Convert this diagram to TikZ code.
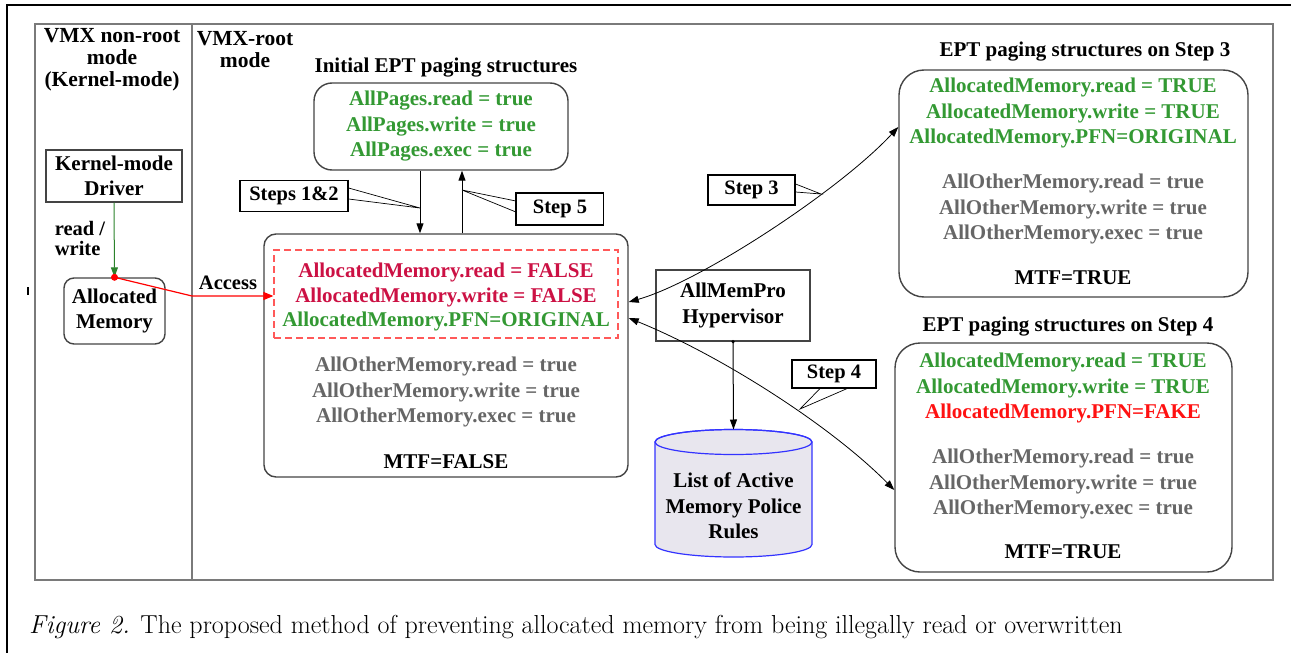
\documentclass[tikz,border=0pt]{standalone}
\usepackage{fontspec}
\newfontfamily\diagfont{Liberation Serif}
\usetikzlibrary{arrows.meta,calc}

\definecolor{okgreen}{HTML}{339933}
\definecolor{badred}{HTML}{CC1144}
\definecolor{fakered}{HTML}{FF1111}
\definecolor{othergray}{HTML}{666666}
\definecolor{framegray}{HTML}{7A7A7A}
\definecolor{boxgray}{HTML}{444444}
\definecolor{dbfill}{HTML}{E8E6EE}

\tikzset{
  dtext/.style={font=\diagfont\bfseries\fontsize{21}{25.5}\selectfont, align=center, inner sep=0pt},
  smalltext/.style={dtext, font=\diagfont\bfseries\fontsize{20.5}{20}\selectfont},
  hdr/.style={font=\diagfont\bfseries\fontsize{21.5}{22}\selectfont, align=center, inner sep=0pt},
  plainbox/.style={draw=boxgray, line width=1.4pt, fill=white, dtext},
  roundbox/.style={draw=boxgray, line width=1.4pt, fill=white, rounded corners=#1, dtext},
  roundbox/.default=12pt,
  callout/.style={draw=black, line width=1.2pt, fill=white, dtext, font=\diagfont\bfseries\fontsize{20.5}{22}\selectfont},
  wedge/.style={draw=black, line width=0.7pt, fill=white},
  arr/.style={draw=black, line width=1pt, -{Triangle[length=10pt,width=7pt]}},
  biarr/.style={draw=black, line width=0.8pt, {Triangle[length=10pt,width=7pt]}-{Triangle[length=10pt,width=7pt]}},
  frame/.style={draw=framegray, line width=2.6pt},
}

\begin{document}
\begin{tikzpicture}[x=1pt,y=-1pt]
\useasboundingbox (0,0) rectangle (1291,653);

% outer page rules
\draw[line width=2.6pt] (7,653) -- (7,5) -- (1291,5);
\draw[line width=1.2pt] (28,287) -- (28,295);

% diagram frame and mode divider
\draw[frame] (35,24) rectangle (1273,580);
\draw[frame] (192,24) -- (192,580);

% mode headers
\node[hdr] (nonroot) at (112,60) {VMX non-root\\mode\\(Kernel-mode)};
\node[hdr] (root) at (245,50) {VMX-root\\mode};

% guest side
\node[plainbox, minimum width=136pt, minimum height=52pt] (drv) at (114,176) {Kernel-mode\\Driver};
\node[roundbox=10pt, minimum width=101pt, minimum height=66pt] (am) at (114.5,311) {Allocated\\Memory};
\draw[draw=okgreen!85!black, line width=1pt, -{Triangle[length=10pt,width=7pt]}] (drv.south) -- (am.north);
\node[smalltext, align=left] (rw) at (80,238) {read /\\write};

% initial EPT structures
\node[dtext] (inittitle) at (446,68) {Initial EPT paging structures};
\node[roundbox=18pt, minimum width=254pt, minimum height=87pt, text=okgreen] (init) at (441,126.5)
  {AllPages.read = true\\AllPages.write = true\\AllPages.exec = true};

% current EPT structures
\node[roundbox=12pt, minimum width=364pt, minimum height=243pt] (main) at (446,355.5) {};
\node[draw=red!65, dashed, dash pattern=on 7pt off 4pt, line width=1.2pt, minimum width=344pt, minimum height=88pt] (prot) at (446,294) {};
\node[dtext, text=badred] (l1) at (446,272) {AllocatedMemory.read = FALSE};
\node[dtext, text=badred] (l2) at (446,297) {AllocatedMemory.write = FALSE};
\node[dtext, text=okgreen] (l3) at (446,321) {AllocatedMemory.PFN=ORIGINAL};
\node[dtext, text=othergray] (l4) at (446,392) {AllOtherMemory.read = true\\AllOtherMemory.write = true\\AllOtherMemory.exec = true};
\node[dtext] (mtf1) at (446,462) {MTF=FALSE};

% guest access path
\coordinate (cross) at (192,296);
\draw[red, line width=1.2pt, -{Triangle[length=10pt,width=8pt]}] (am.north) -- (cross) -- (prot.west |- cross);
\fill[red] (am.north) circle (3.5pt);
\node[smalltext] (acc) at (228,283) {Access};

% steps 1&2 and 5
\draw[arr] ([xshift=-21pt]init.south) -- ([xshift=-21pt]init.south |- main.north);
\draw[arr] ([xshift=21pt]init.south |- main.north) -- ([xshift=21pt]init.south);
\coordinate (t12) at (420,208);
\coordinate (t5) at (462,190);
\node[callout, minimum width=108pt, minimum height=31pt] (s12) at (294,196) {Steps 1\&2};
\node[callout, minimum width=87pt, minimum height=32pt] (s5) at (560,209) {Step 5};
\filldraw[wedge] ([yshift=8pt]s12.east) -- (t12) -- ([yshift=-3pt]s12.east);
\filldraw[wedge] ([yshift=8pt]s5.west) -- (t5) -- ([yshift=-3pt]s5.west);
\draw[draw=black, line width=1.2pt] (s12.north east) -- (s12.south east);
\draw[draw=black, line width=1.2pt] (s5.north west) -- (s5.south west);

% hypervisor and policy list
\node[plainbox, minimum width=154pt, minimum height=71pt] (hyp) at (733,305.5) {AllMemPro\\Hypervisor};
\fill[draw=blue!80, line width=1.2pt, fill=dbfill]
  (655,442) -- (655,544.5) arc[start angle=180, end angle=360, x radius=78.5pt, y radius=12.5pt]
  -- (812,442) arc[start angle=0, end angle=180, x radius=78.5pt, y radius=12.5pt] -- cycle;
\draw[blue!80, line width=1.2pt] (733.5,442) ellipse[x radius=78.5pt, y radius=12.5pt];
\coordinate (dbtop) at (733.5,429.5);
\node[dtext] (db) at (733.5,506) {List of Active\\Memory Police\\Rules};
\draw[arr] (hyp.south) -- (dbtop);
\fill (hyp.south) circle (1.8pt);

% step 3 structures
\node[dtext] (s3title) at (1085,52) {EPT paging structures on Step 3};
\node[roundbox=25pt, minimum width=349pt, minimum height=227pt] (ept3) at (1073.5,183.5) {};
\node[dtext, text=okgreen] (e3a) at (1073,113) {AllocatedMemory.read = TRUE\\AllocatedMemory.write = TRUE\\AllocatedMemory.PFN=ORIGINAL};
\node[dtext, text=othergray] (e3b) at (1073,209) {AllOtherMemory.read = true\\AllOtherMemory.write = true\\AllOtherMemory.exec = true};
\node[dtext] (mtf3) at (1073,278) {MTF=TRUE};

% step 4 structures
\node[dtext] (s4title) at (1068,327) {EPT paging structures on Step 4};
\node[roundbox=25pt, minimum width=337pt, minimum height=229pt] (ept4) at (1063.5,457.5) {};
\node[dtext, text=okgreen] (e4a) at (1063,375.5) {AllocatedMemory.read = TRUE\\AllocatedMemory.write = TRUE};
\node[dtext, text=fakered] (e4b) at (1063,413) {AllocatedMemory.PFN=FAKE};
\node[dtext, text=othergray] (e4c) at (1063,484) {AllOtherMemory.read = true\\AllOtherMemory.write = true\\AllOtherMemory.exec = true};
\node[dtext] (mtf4) at (1063,552) {MTF=TRUE};

% step 3 and step 4 transitions
\draw[biarr] ([yshift=53.5pt]main.east) .. controls (700,282) and (840,190) .. ([yshift=56.5pt]ept3.west);
\draw[biarr] ([yshift=37.5pt]main.east) .. controls (720,355) and (830,425) .. ([yshift=-32.5pt]ept4.west);
\coordinate (t3) at (821,194);
\coordinate (t4) at (800,409);
\node[callout, minimum width=87pt, minimum height=30pt] (s3) at (751.5,190) {Step 3};
\node[callout, minimum width=84pt, minimum height=28pt] (s4) at (834,374) {Step 4};
\filldraw[wedge] ([yshift=6pt]s3.east) -- (t3) -- ([yshift=-2pt]s3.east);
\draw[draw=black, line width=1.2pt] (s3.north east) -- (s3.south east);
\filldraw[wedge] ([xshift=-14pt]s4.south) -- (t4) -- ([xshift=13pt]s4.south);
\draw[draw=black, line width=1.2pt] (s4.south west) -- (s4.south east);

% caption
\node[anchor=west, inner sep=0pt, font=\fontsize{26}{30}\selectfont] (cap) at (29,627)
  {\textit{Figure 2.} The proposed method of preventing allocated memory from being illegally read or overwritten};
\end{tikzpicture}
\end{document}
